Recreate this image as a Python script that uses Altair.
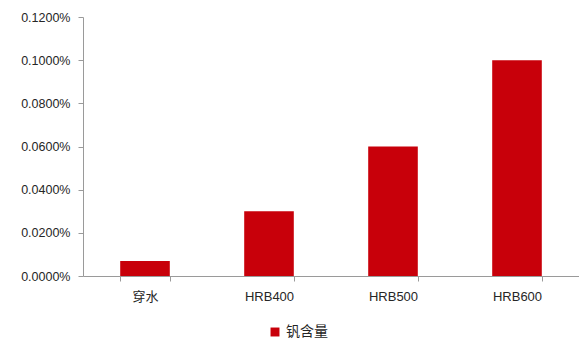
import altair as alt
import pandas as pd

categories = ["穿水", "HRB400", "HRB500", "HRB600"]
values = [0.00007, 0.00030, 0.00060, 0.00100]
series = ["钒含量"] * 4

df = pd.DataFrame({"cat": categories, "val": values, "series": series})

FONT = "Liberation Sans, Noto Sans CJK SC, sans-serif"

chart = alt.Chart(df).mark_bar(color="#C8000A").encode(
    x=alt.X("cat:N", sort=categories, title=None,
            scale=alt.Scale(paddingInner=0.6, paddingOuter=0.3),
            axis=alt.Axis(labelAngle=0, labelFontSize=13, labelColor="#262626",
                          labelPadding=9, tickBand="extent", tickSize=5,
                          domainColor="#9a9a9a", tickColor="#9a9a9a", labelFont=FONT)),
    y=alt.Y("val:Q", title=None,
            scale=alt.Scale(domain=[0, 0.0012], nice=False),
            axis=alt.Axis(format=".4%", values=[0, 0.0002, 0.0004, 0.0006, 0.0008, 0.0010, 0.0012],
                          grid=False, labelFontSize=12.5, labelColor="#262626", tickSize=5,
                          labelPadding=8, domainColor="#9a9a9a", tickColor="#9a9a9a", labelFont=FONT)),
    color=alt.Color("series:N", title=None,
                    scale=alt.Scale(domain=["钒含量"], range=["#C8000A"]),
                    legend=alt.Legend(orient="none", legendX=185, legendY=308,
                                      symbolType="square", symbolSize=80,
                                      labelFontSize=14, labelColor="#262626", labelFont=FONT)),
).properties(
    width=496, height=259,
    padding={"left": 83, "top": 17, "right": 0, "bottom": 69},
    autosize=alt.AutoSizeParams(type="none"),
).configure_view(stroke=None)

chart.save("out.html", embed_options={"renderer": "svg", "actions": False})
